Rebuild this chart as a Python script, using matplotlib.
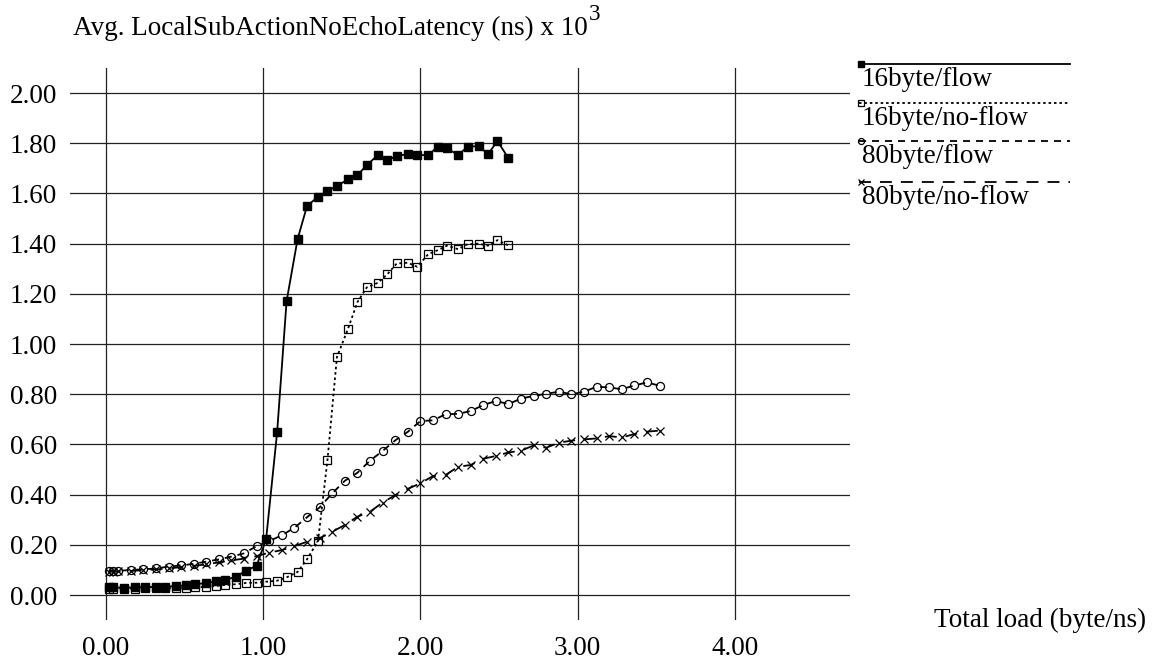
import matplotlib
matplotlib.use("Agg")
import matplotlib.pyplot as plt
from matplotlib.lines import Line2D

plt.rcParams["font.family"] = ["Liberation Serif", "DejaVu Serif"]

# load values (byte/ns)
x16 = [0.02, 0.05, 0.12, 0.19, 0.25, 0.32, 0.38, 0.45, 0.51, 0.57,
       0.64, 0.70, 0.76, 0.83, 0.89, 0.96, 1.02, 1.09, 1.15, 1.22,
       1.28, 1.35, 1.41, 1.47, 1.54, 1.60, 1.66, 1.73, 1.79, 1.85,
       1.92, 1.98, 2.05, 2.11, 2.17, 2.24, 2.30, 2.37, 2.43, 2.49, 2.56]
x80 = [0.02, 0.05, 0.08, 0.16, 0.24, 0.32, 0.40, 0.48, 0.56, 0.64,
       0.72, 0.80, 0.88, 0.96, 1.04, 1.12, 1.20, 1.28, 1.36, 1.44,
       1.52, 1.60, 1.68, 1.76, 1.84, 1.92, 2.00, 2.08, 2.16, 2.24,
       2.32, 2.40, 2.48, 2.56, 2.64, 2.72, 2.80, 2.88, 2.96, 3.04,
       3.12, 3.20, 3.28, 3.36, 3.44, 3.52]

# latency (ns x 10^3)
y16_flow = [0.030, 0.030, 0.029, 0.030, 0.031, 0.032, 0.033, 0.035, 0.038, 0.043,
            0.048, 0.055, 0.060, 0.073, 0.096, 0.117, 0.222, 0.648, 1.170, 1.418,
            1.550, 1.587, 1.610, 1.630, 1.656, 1.673, 1.713, 1.753, 1.733, 1.749,
            1.757, 1.753, 1.753, 1.786, 1.780, 1.753, 1.786, 1.789, 1.757, 1.809, 1.740]
y16_noflow = [0.025, 0.025, 0.025, 0.025, 0.026, 0.026, 0.027, 0.027, 0.028, 0.030,
              0.033, 0.036, 0.040, 0.043, 0.048, 0.049, 0.053, 0.057, 0.070, 0.092,
              0.142, 0.216, 0.538, 0.948, 1.060, 1.167, 1.226, 1.244, 1.278, 1.321,
              1.324, 1.308, 1.358, 1.374, 1.392, 1.378, 1.398, 1.400, 1.392, 1.414, 1.393]
y80_flow = [0.096, 0.096, 0.096, 0.100, 0.102, 0.106, 0.113, 0.118, 0.124, 0.133,
            0.142, 0.153, 0.166, 0.195, 0.215, 0.238, 0.268, 0.310, 0.349, 0.405,
            0.455, 0.487, 0.535, 0.574, 0.616, 0.650, 0.693, 0.696, 0.720, 0.722,
            0.733, 0.757, 0.773, 0.761, 0.783, 0.793, 0.802, 0.810, 0.800, 0.810,
            0.830, 0.827, 0.820, 0.835, 0.847, 0.834]
y80_noflow = [0.093, 0.093, 0.094, 0.096, 0.099, 0.102, 0.106, 0.111, 0.116, 0.122,
              0.130, 0.138, 0.145, 0.155, 0.169, 0.179, 0.195, 0.212, 0.226, 0.252,
              0.279, 0.312, 0.332, 0.368, 0.398, 0.423, 0.445, 0.474, 0.478, 0.511,
              0.518, 0.543, 0.554, 0.568, 0.575, 0.596, 0.587, 0.607, 0.615, 0.620,
              0.624, 0.633, 0.628, 0.641, 0.651, 0.655]

labels = ["16byte/flow", "16byte/no-flow", "80byte/flow", "80byte/no-flow"]
xticks = [0, 1, 2, 3, 4]
yticks = [0.0, 0.2, 0.4, 0.6, 0.8, 1.0, 1.2, 1.4, 1.6, 1.8, 2.0]

W, H = 1155, 662
FS = 19.5
LW = 1.3

styles = [
    dict(ls="-", marker="s", mfc="black", mec="black", ms=6),
    dict(ls=(0, (1.4, 1.6)), marker="s", mfc="none", mec="black", ms=5.8, mew=0.9),
    dict(ls=(0, (3.9, 3.3)), marker="o", mfc="none", mec="black", ms=5.8, mew=0.9),
    dict(ls=(0, (6.6, 5.0)), marker="x", mec="black", ms=6, mew=0.9),
]

fig = plt.figure(figsize=(W / 100, H / 100), dpi=100)
ax = fig.add_axes([70 / W, 1 - 620 / H, 780 / W, 552 / H])

series = [(x16, y16_flow), (x16, y16_noflow), (x80, y80_flow), (x80, y80_noflow)]
for (xs, ys), st in zip(series, styles):
    ax.plot(xs, ys, color="black", lw=LW, **st)

ax.set_xlim(-0.226, 4.73)
ax.set_ylim(-0.0996, 2.10)
ax.set_xticks(xticks)
ax.set_yticks(yticks)
ax.set_xticklabels(["%.2f" % v for v in xticks], fontsize=FS)
ax.set_yticklabels(["%.2f" % v for v in yticks], fontsize=FS)
ax.tick_params(length=0)
ax.tick_params(axis="x", pad=11.5)
ax.tick_params(axis="y", pad=9.4)
ax.grid(True, color="#222222", lw=0.9)
ax.set_axisbelow(True)
for s in ax.spines.values():
    s.set_visible(False)

# titles
t = fig.text(73 / W, 1 - 35 / H, "Avg. LocalSubActionNoEchoLatency (ns) x 10",
             fontsize=FS, va="baseline", ha="left")
fig.canvas.draw()
bb = t.get_window_extent()
fig.text(bb.x1 / W + 1 / W, 1 - 20 / H, "3", fontsize=FS * 0.85,
         va="baseline", ha="left")
fig.text(934 / W, 1 - 627 / H, "Total load (byte/ns)", fontsize=FS,
         va="baseline", ha="left")

# legend: line with marker at its start, label underneath
leg_y = [64, 103, 141, 182]
for lab, st, ly in zip(labels, styles, leg_y):
    yf = 1 - ly / H
    fig.add_artist(Line2D([859 / W, 1070 / W], [yf, yf], transform=fig.transFigure,
                          color="black", lw=LW, ls=st["ls"]))
    mk = {k: v for k, v in st.items() if k != "ls"}
    mk["ms"] = mk["ms"] * 0.75
    fig.add_artist(Line2D([861 / W], [yf], transform=fig.transFigure,
                          color="black", ls="none", **mk))
    fig.text(862 / W, 1 - (ly + 22) / H, lab, fontsize=FS, va="baseline", ha="left")

fig.savefig("out.png", dpi=100)
